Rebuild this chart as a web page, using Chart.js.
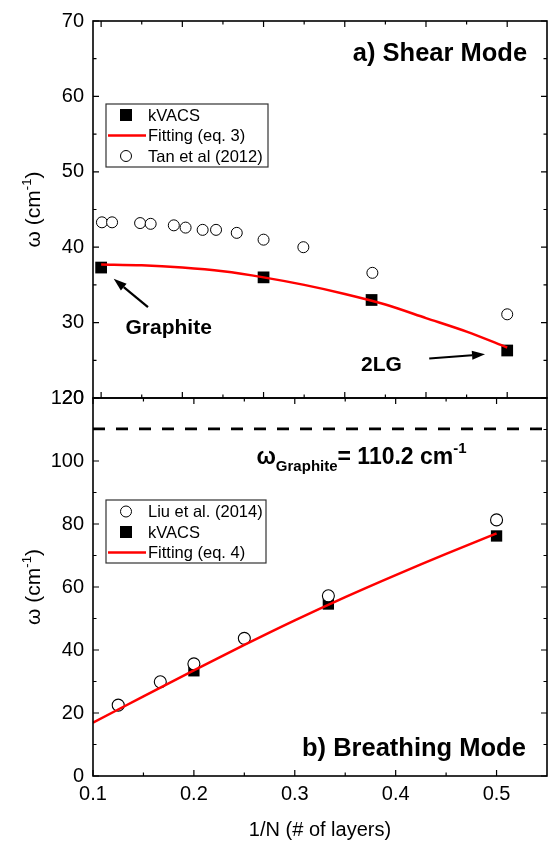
<!DOCTYPE html>
<html>
<head>
<meta charset="utf-8">
<script src="https://cdn.jsdelivr.net/npm/chart.js@4.4.0/dist/chart.umd.min.js"></script>
<style>
  html, body { margin: 0; padding: 0; background: #fff; }
  #wrap { position: relative; width: 556px; height: 842px; }
  canvas { position: absolute; left: 0; top: 0; }
</style>
</head>
<body>
<div id="wrap">
  <canvas id="shear" width="556" height="842"></canvas>
  <canvas id="breath" width="556" height="842"></canvas>
</div>
<script>
// ---- a) shear mode, x = 1/N ----
const shearX = [0, 0.2, 0.333, 0.5];
const shearKvacs = [37.3, 36.0, 33.0, 26.3];
const shearFitX = [0, 0.05, 0.1, 0.15, 0.2, 0.25, 0.3, 0.35, 0.4, 0.45, 0.5];
const shearFit = [37.7, 37.6, 37.3, 36.8, 36.0, 35.0, 33.8, 32.4, 30.6, 28.8, 26.7];
const tanX = [0.001, 0.0135, 0.048, 0.061, 0.0895, 0.104, 0.125, 0.1415, 0.167, 0.2, 0.249, 0.334, 0.5];
const tanY = [43.3, 43.3, 43.2, 43.1, 42.9, 42.6, 42.3, 42.3, 41.9, 41.0, 40.0, 36.6, 31.1];
const shearYTicks = [20, 30, 40, 50, 60, 70];

// ---- b) breathing mode ----
const liuX = [0.125, 0.1667, 0.2, 0.25, 0.3333, 0.5];
const liuY = [22.5, 29.9, 35.6, 43.7, 57.2, 81.3];
const breathX = [0.2, 0.3333, 0.5];
const breathKvacs = [33.4, 54.6, 76.2];
const breathFitX = [0.1, 0.15, 0.2, 0.25, 0.3, 0.35, 0.4, 0.45, 0.5];
const breathFit = [16.9, 25.3, 33.5, 41.6, 49.4, 56.8, 63.8, 70.5, 77.0];
const graphiteX = [0.1, 0.55];
const graphiteW = [110.2, 110.2];
const breathYTicks = [0, 20, 40, 60, 80, 100, 120];
const xTicks = [0.1, 0.2, 0.3, 0.4, 0.5];

const FONT = "'Liberation Sans', Arial, sans-serif";
Chart.defaults.font.family = FONT;
Chart.defaults.color = '#000';

const pts = (xs, ys) => xs.map((x, i) => ({ x: x, y: ys[i] }));

// draws text made of pieces: [text, size, weight, dy]
function rich(ctx, parts, x, y, align) {
  let w = 0;
  parts.forEach(p => { ctx.font = p[2] + ' ' + p[1] + 'px ' + FONT; w += ctx.measureText(p[0]).width; });
  let cx = align === 'center' ? x - w / 2 : align === 'right' ? x - w : x;
  ctx.textAlign = 'left';
  ctx.textBaseline = 'alphabetic';
  parts.forEach(p => {
    ctx.font = p[2] + ' ' + p[1] + 'px ' + FONT;
    ctx.fillText(p[0], cx, y + p[3]);
    cx += ctx.measureText(p[0]).width;
  });
}

function arrow(ctx, x1, y1, x2, y2) {
  const a = Math.atan2(y2 - y1, x2 - x1), L = 13, H = 4.5;
  const bx = x2 - L * Math.cos(a), by = y2 - L * Math.sin(a);
  ctx.lineWidth = 2.2;
  ctx.beginPath(); ctx.moveTo(x1, y1); ctx.lineTo(bx, by); ctx.stroke();
  ctx.beginPath();
  ctx.moveTo(x2, y2);
  ctx.lineTo(bx + H * Math.sin(a), by - H * Math.cos(a));
  ctx.lineTo(bx - H * Math.sin(a), by + H * Math.cos(a));
  ctx.closePath(); ctx.fill();
}

// frame + inward ticks on all sides
const frame = {
  id: 'frame',
  afterDatasetsDraw(chart, args, o) {
    const { ctx, chartArea: a, scales } = chart;
    ctx.save();
    ctx.strokeStyle = '#000';
    ctx.lineWidth = 1.2;
    const run = (scale, spec, horiz) => {
      const [from, to, step, major] = spec;
      const n = Math.round((to - from) / step);
      for (let i = 0; i <= n; i++) {
        const v = from + i * step;
        const r = v / major;
        const len = Math.abs(r - Math.round(r)) < 1e-6 ? 6 : 3.5;
        const p = scale.getPixelForValue(v);
        ctx.beginPath();
        if (horiz) {
          ctx.moveTo(p, a.bottom); ctx.lineTo(p, a.bottom - len);
          ctx.moveTo(p, a.top); ctx.lineTo(p, a.top + len);
        } else {
          ctx.moveTo(a.left, p); ctx.lineTo(a.left + len, p);
          ctx.moveTo(a.right, p); ctx.lineTo(a.right - len, p);
        }
        ctx.stroke();
      }
    };
    run(scales.x, o.x, true);
    run(scales.y, o.y, false);
    ctx.lineWidth = 1.6;
    ctx.strokeRect(a.left, a.top, a.right - a.left, a.bottom - a.top);
    ctx.restore();
  }
};

// legend box inside the plot
const legendBox = {
  id: 'legendBox',
  afterDraw(chart, args, o) {
    const ctx = chart.ctx;
    ctx.save();
    ctx.strokeStyle = '#333';
    ctx.lineWidth = 1.2;
    ctx.strokeRect(o.left, o.top, o.width, o.height);
    o.items.forEach((idx, i) => {
      const ds = chart.data.datasets[idx];
      const y = o.top + o.first + i * o.row;
      const mx = o.left + 20;
      if (ds.showLine) {
        ctx.strokeStyle = ds.borderColor; ctx.lineWidth = ds.borderWidth;
        ctx.beginPath(); ctx.moveTo(o.left + 2, y); ctx.lineTo(o.left + 40, y); ctx.stroke();
      } else if (ds.pointStyle === 'rect') {
        ctx.fillStyle = '#000';
        ctx.fillRect(mx - 6, y - 6, 12, 12);
      } else {
        ctx.fillStyle = '#fff'; ctx.strokeStyle = '#000'; ctx.lineWidth = 1;
        ctx.beginPath(); ctx.arc(mx, y, 5.5, 0, Math.PI * 2); ctx.fill(); ctx.stroke();
      }
      ctx.fillStyle = '#000';
      ctx.font = '16.5px ' + FONT;
      ctx.textAlign = 'left'; ctx.textBaseline = 'middle';
      ctx.fillText(ds.label, o.left + 42, y + 1);
    });
    ctx.restore();
  }
};

// text labels, arrows, axis titles
const notes = {
  id: 'notes',
  afterDraw(chart, args, o) {
    const { ctx, chartArea: a, scales } = chart;
    const X = v => scales.x.getPixelForValue(v), Y = v => scales.y.getPixelForValue(v);
    ctx.save();
    ctx.fillStyle = '#000'; ctx.strokeStyle = '#000';
    o.texts.forEach(t => rich(ctx, t.parts, X(t.x), Y(t.y), t.align));
    o.arrows.forEach(r => arrow(ctx, X(r[0]), Y(r[1]), X(r[2]), Y(r[3])));
    // y title
    ctx.save();
    ctx.translate(40, (a.top + a.bottom) / 2);
    ctx.rotate(-Math.PI / 2);
    rich(ctx, [['\u03c9 (cm', 21, 'normal', 0], ['-1', 13, 'normal', -9], [')', 21, 'normal', 0]], 0, 0, 'center');
    ctx.restore();
    if (o.xTitle) rich(ctx, [[o.xTitle, 20, 'normal', 0]], (a.left + a.right) / 2, 836, 'center');
    ctx.restore();
  }
};

const yAxis = (min, max, ticks) => ({
  type: 'linear', min: min, max: max,
  afterBuildTicks: s => { s.ticks = ticks.map(v => ({ value: v })); },
  afterFit: s => { s.width = 93; },
  grid: { display: false, drawTicks: false },
  border: { display: false },
  ticks: { padding: 9, color: '#000', font: { size: 20 } }
});

new Chart(document.getElementById('shear'), {
  type: 'scatter',
  data: {
    datasets: [
      { label: 'kVACS', data: pts(shearX, shearKvacs), pointStyle: 'rect', pointRadius: 8.3,
        backgroundColor: '#000', borderColor: '#000', borderWidth: 0, order: 1 },
      { label: 'Fitting (eq. 3)', data: pts(shearFitX, shearFit), showLine: true, tension: 0.3,
        borderColor: '#ff0000', borderWidth: 2.5, pointRadius: 0, order: 0 },
      { label: 'Tan et al (2012)', data: pts(tanX, tanY), pointStyle: 'circle', pointRadius: 5.5,
        backgroundColor: '#fff', borderColor: '#000', borderWidth: 1, order: 2 }
    ]
  },
  options: {
    responsive: false, animation: false,
    layout: { padding: { top: 19, right: 9, bottom: 444, left: 0 } },
    scales: {
      x: { type: 'linear', min: -0.01, max: 0.549, display: false },
      y: yAxis(20, 70, shearYTicks)
    },
    plugins: {
      legend: { display: false }, tooltip: { enabled: false },
      frame: { x: [0, 0.5, 0.05, 0.1], y: [20, 70, 5, 10] },
      legendBox: { left: 106, top: 104, width: 162, height: 63, first: 11, row: 20.5, items: [0, 1, 2] },
      notes: {
        texts: [
          { x: 0.5245, y: 64.7, align: 'right', parts: [['a) Shear Mode', 25.5, 'bold', 0]] },
          { x: 0.030, y: 28.5, align: 'left', parts: [['Graphite', 21, 'bold', 0]] },
          { x: 0.320, y: 23.6, align: 'left', parts: [['2LG', 21, 'bold', 0]] }
        ],
        arrows: [[0.0577, 32.05, 0.0155, 35.8], [0.404, 25.24, 0.4727, 25.8]]
      }
    }
  },
  plugins: [frame, legendBox, notes]
});

new Chart(document.getElementById('breath'), {
  type: 'scatter',
  data: {
    datasets: [
      { label: 'Liu et al. (2014)', data: pts(liuX, liuY), pointStyle: 'circle', pointRadius: 6,
        backgroundColor: '#fff', borderColor: '#000', borderWidth: 1.1, order: 1 },
      { label: 'kVACS', data: pts(breathX, breathKvacs), pointStyle: 'rect', pointRadius: 8,
        backgroundColor: '#000', borderColor: '#000', borderWidth: 0, order: 2 },
      { label: 'Fitting (eq. 4)', data: pts(breathFitX, breathFit), showLine: true, tension: 0.3,
        borderColor: '#ff0000', borderWidth: 2.5, pointRadius: 0, order: 0 },
      { label: 'graphite', data: pts(graphiteX, graphiteW), showLine: true, borderDash: [12, 11],
        borderColor: '#000', borderWidth: 2.6, pointRadius: 0, order: 3 }
    ]
  },
  options: {
    responsive: false, animation: false,
    layout: { padding: { top: 398, right: 9, bottom: 0, left: 0 } },
    scales: {
      x: {
        type: 'linear', min: 0.1, max: 0.55,
        afterBuildTicks: s => { s.ticks = xTicks.map(v => ({ value: v })); },
        afterFit: s => { s.height = 66; },
        grid: { display: false, drawTicks: false },
        border: { display: false },
        ticks: { padding: 6, color: '#000', font: { size: 20 }, callback: v => v.toFixed(1) }
      },
      y: yAxis(0, 120, breathYTicks)
    },
    plugins: {
      legend: { display: false }, tooltip: { enabled: false },
      frame: { x: [0.1, 0.5, 0.05, 0.1], y: [0, 120, 10, 20] },
      legendBox: { left: 106, top: 500, width: 160, height: 63, first: 11.5, row: 20.5, items: [0, 1, 2] },
      notes: {
        xTitle: '1/N (# of layers)',
        texts: [
          { x: 0.529, y: 6.5, align: 'right', parts: [['b) Breathing Mode', 25.5, 'bold', 0]] },
          { x: 0.262, y: 99.0, align: 'left', parts: [['\u03c9', 23, 'bold', 0], ['Graphite', 15, 'bold', 7],
            ['= 110.2 cm', 23, 'bold', 0], ['-1', 15, 'bold', -11]] }
        ],
        arrows: []
      }
    }
  },
  plugins: [frame, legendBox, notes]
});
</script>
</body>
</html>
